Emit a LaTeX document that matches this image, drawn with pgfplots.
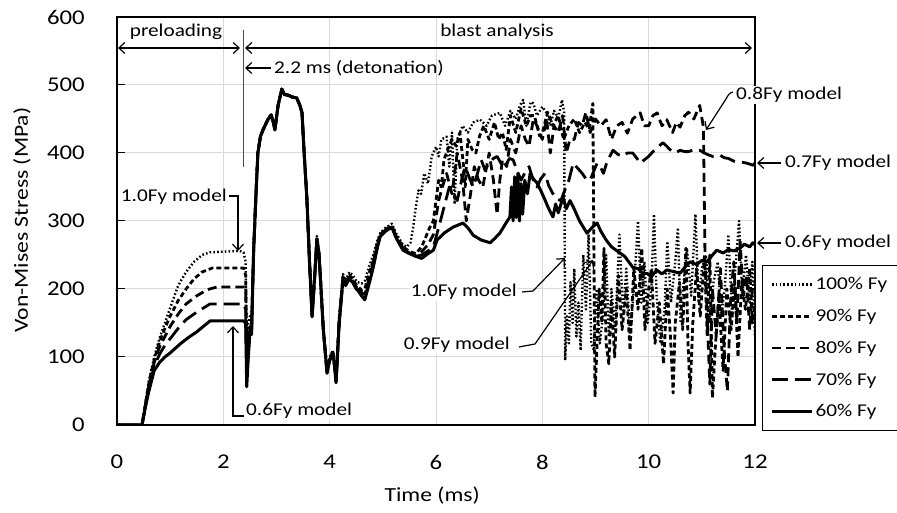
\documentclass[border=0pt]{standalone}
\usepackage{fontspec}
\setmainfont{Carlito}[FakeStretch=1.18]
\usepackage{pgfplots}
\pgfplotsset{compat=1.18}
\usetikzlibrary{arrows.meta}
\definecolor{gridgray}{RGB}{217,217,217}
\begin{document}
\begin{tikzpicture}
\begin{axis}[
 scale only axis, width=638pt, height=408pt,
 xmin=0, xmax=12, ymin=0, ymax=600,
 xtick={0,2,...,12}, ytick={0,100,...,600},
 grid=major, major grid style={gridgray, line width=1pt},
 axis line style={black, line width=1.3pt},
 tick align=inside, major tick length=8pt,
 xtick style={draw=none}, ytick style={black, line width=1pt},
 ytick pos=left, xtick pos=bottom,
 tick label style={font=\fontsize{21}{21}\selectfont, inner sep=0pt},
 /pgf/number format/assume math mode=true,
 xticklabel shift=30pt, yticklabel shift=32pt,
 xlabel={Time (ms)}, ylabel={Von-Mises Stress (MPa)},
 label style={font=\fontsize{20}{20}\selectfont},
 xlabel style={at={(axis description cs:0.494,-0.172)}, anchor=center},
 ylabel style={at={(axis description cs:-0.149,0.502)}, anchor=center},
 legend style={at={(1.011,0.392)}, anchor=north west, draw=black, line width=1pt, fill=white,
   font=\fontsize{18}{18}\selectfont, row sep=14pt, inner xsep=8pt, inner ysep=10pt,
   cells={anchor=west}},
 legend image code/.code={\draw[#1] (0pt,0pt) -- (40pt,0pt);},
]
% 100% Fy
\addplot[black, line width=2.4pt, dash pattern=on 1.6pt off 2.2pt, line join=round] coordinates {
(0,0)(0.47,0)(0.55,40)(0.6,65)(0.7,100)(0.8,128)(0.9,150)(1.0,172)(1.15,205)(1.3,225)(1.45,240)(1.6,250)(1.75,254)(2.3,256)(2.38,254)(2.42,240)(2.44,120)(2.47,150)(2.5,160)(2.53,150)(2.57,262)(2.62,352)(2.65,402)(2.7,426)(2.75,436)(2.83,449)(2.9,457)(2.94,446)(2.97,436)(3.03,471)(3.1,494)(3.15,487)(3.22,486)(3.3,483)(3.38,482)(3.44,471)(3.48,460)(3.52,402)(3.57,337)(3.62,245)(3.67,165)(3.72,225)(3.76,278)(3.8,255)(3.82,228)(3.88,145)(3.95,82)(4.0,100)(4.06,110)(4.1,85)(4.12,68)(4.18,160)(4.25,222)(4.3,212)(4.37,225)(4.44,220)(4.5,212)(4.53,210)(4.6,208)(4.66,212)(4.75,235)(4.82,250)(4.9,272)(4.95,282)(5.05,290)(5.17,296)(5.25,282)(5.38,265)(5.45,262)(5.52,268)(5.57,290)(5.62,320)(5.67,345)(5.72,340)(5.78,370)(5.85,355)(5.92,395)(6.0,409)(6.05,395)(6.1,420)(6.2,424)(6.25,380)(6.3,430)(6.35,325)(6.4,420)(6.5,440)(6.6,430)(6.7,445)(6.83,449)(6.95,440)(7.05,455)(7.2,459)(7.3,440)(7.4,462)(7.5,450)(7.58,470)(7.64,478)(7.7,440)(7.78,475)(7.83,473)(7.9,455)(8.0,468)(8.08,459)(8.15,440)(8.22,462)(8.3,452)(8.37,478)(8.41,460)(8.43,95)(8.46,160)(8.5,120)(8.53,210)(8.57,150)(8.6,230)(8.64,130)(8.68,180)(8.72,110)(8.77,250)(8.82,170)(8.87,280)(8.92,120)(8.97,110)(9.02,200)(9.08,120)(9.14,160)(9.2,250)(9.25,130)(9.3,200)(9.37,140)(9.45,280)(9.52,160)(9.58,230)(9.65,130)(9.72,200)(9.8,300)(9.86,180)(9.92,240)(9.98,150)(10.05,200)(10.1,310)(10.15,190)(10.22,120)(10.3,170)(10.35,270)(10.42,180)(10.5,240)(10.55,290)(10.6,150)(10.67,220)(10.72,260)(10.8,190)(10.88,310)(10.94,180)(11.0,230)(11.08,250)(11.14,150)(11.22,210)(11.3,240)(11.36,160)(11.43,200)(11.5,280)(11.57,160)(11.63,230)(11.7,300)(11.76,190)(11.83,250)(11.9,180)(11.95,240)(12,130)
};
\addlegendentry{100\% Fy}
% 90% Fy
\addplot[black, line width=2.8pt, dash pattern=on 5pt off 3pt, line join=round] coordinates {
(0,0)(0.47,0)(0.55,38)(0.6,62)(0.7,96)(0.8,122)(0.9,142)(1.0,160)(1.15,183)(1.3,200)(1.45,215)(1.6,225)(1.8,231)(2.38,231)(2.42,220)(2.44,100)(2.47,130)(2.5,145)(2.53,138)(2.57,259)(2.62,351)(2.65,401)(2.7,426)(2.75,435)(2.83,448)(2.9,456)(2.94,445)(2.97,435)(3.03,470)(3.1,494)(3.15,486)(3.22,485)(3.3,482)(3.38,481)(3.44,470)(3.48,459)(3.52,401)(3.57,336)(3.62,243)(3.67,162)(3.72,222)(3.76,275)(3.8,252)(3.82,226)(3.88,143)(3.95,80)(4.0,98)(4.06,108)(4.1,83)(4.12,66)(4.18,156)(4.25,218)(4.3,210)(4.37,220)(4.44,215)(4.5,206)(4.53,204)(4.6,198)(4.66,200)(4.75,225)(4.82,242)(4.9,268)(4.95,280)(5.05,288)(5.17,293)(5.25,278)(5.38,262)(5.5,255)(5.62,252)(5.73,262)(5.8,275)(5.88,290)(5.95,300)(6.0,330)(6.05,360)(6.1,350)(6.15,390)(6.22,405)(6.3,420)(6.38,410)(6.45,430)(6.52,380)(6.55,350)(6.6,420)(6.68,405)(6.75,400)(6.82,425)(6.9,440)(7.0,420)(7.1,445)(7.18,420)(7.25,430)(7.32,405)(7.4,455)(7.5,430)(7.6,465)(7.7,440)(7.78,455)(7.85,455)(7.95,425)(8.0,430)(8.1,460)(8.2,440)(8.3,455)(8.4,420)(8.5,440)(8.6,450)(8.7,430)(8.8,445)(8.88,435)(8.95,473)(8.99,41)(9.03,120)(9.07,200)(9.12,150)(9.16,260)(9.2,120)(9.25,90)(9.3,180)(9.36,100)(9.43,220)(9.5,140)(9.58,200)(9.65,110)(9.72,230)(9.8,170)(9.87,260)(9.93,140)(10.0,200)(10.05,230)(10.12,120)(10.2,180)(10.28,90)(10.35,200)(10.41,130)(10.46,47)(10.5,150)(10.58,210)(10.64,140)(10.7,260)(10.74,120)(10.78,47)(10.83,150)(10.9,230)(10.97,160)(11.05,250)(11.1,130)(11.15,250)(11.2,40)(11.25,110)(11.32,190)(11.4,80)(11.47,200)(11.55,140)(11.62,210)(11.68,100)(11.75,210)(11.82,170)(11.9,230)(11.95,150)(12,180)
};
\addlegendentry{90\% Fy}
% 80% Fy
\addplot[black, line width=2.8pt, dash pattern=on 9pt off 5pt, line join=round] coordinates {
(0,0)(0.47,0)(0.55,36)(0.6,58)(0.7,92)(0.8,115)(0.9,130)(1.0,145)(1.15,163)(1.3,178)(1.5,190)(1.7,199)(1.88,203)(2.38,203)(2.42,195)(2.44,90)(2.47,120)(2.5,140)(2.53,136)(2.57,258)(2.62,350)(2.65,401)(2.7,425)(2.75,435)(2.83,448)(2.9,456)(2.94,445)(2.97,434)(3.03,470)(3.1,494)(3.15,486)(3.22,485)(3.3,482)(3.38,481)(3.44,470)(3.48,459)(3.52,400)(3.57,335)(3.62,242)(3.67,160)(3.72,221)(3.76,274)(3.8,251)(3.82,225)(3.88,142)(3.95,78)(4.0,96)(4.06,107)(4.1,82)(4.12,64)(4.18,153)(4.25,216)(4.3,208)(4.37,218)(4.44,212)(4.5,203)(4.53,201)(4.6,194)(4.66,192)(4.75,218)(4.82,238)(4.9,265)(4.95,279)(5.05,287)(5.17,292)(5.25,277)(5.38,260)(5.5,253)(5.62,250)(5.73,255)(5.85,265)(5.95,280)(6.05,330)(6.12,350)(6.2,370)(6.3,340)(6.4,400)(6.5,360)(6.57,300)(6.65,340)(6.72,380)(6.8,360)(6.88,350)(7.0,400)(7.08,360)(7.12,330)(7.15,310)(7.2,360)(7.25,390)(7.33,380)(7.4,420)(7.5,400)(7.6,440)(7.68,420)(7.75,410)(7.83,450)(7.9,440)(8.0,420)(8.08,450)(8.15,400)(8.22,440)(8.3,430)(8.38,455)(8.45,400)(8.52,420)(8.6,420)(8.68,445)(8.75,440)(8.82,460)(8.9,430)(9.0,450)(9.1,440)(9.2,449)(9.3,420)(9.4,440)(9.5,445)(9.6,429)(9.7,450)(9.84,459)(9.92,440)(10.0,440)(10.08,455)(10.16,459)(10.25,440)(10.34,449)(10.45,430)(10.52,445)(10.59,438)(10.68,455)(10.75,460)(10.85,450)(10.96,470)(11.03,438)(11.06,245)(11.1,160)(11.15,60)(11.2,200)(11.27,130)(11.35,230)(11.42,110)(11.48,50)(11.54,180)(11.6,240)(11.66,150)(11.72,270)(11.78,190)(11.84,220)(11.9,140)(11.95,200)(12,210)
};
\addlegendentry{80\% Fy}
% 70% Fy
\addplot[black, line width=2.8pt, dash pattern=on 16pt off 7pt, line join=round] coordinates {
(0,0)(0.47,0)(0.55,34)(0.6,55)(0.7,86)(0.8,104)(0.9,117)(1.0,127)(1.15,142)(1.3,155)(1.5,166)(1.75,178)(2.38,178)(2.42,170)(2.44,75)(2.47,110)(2.5,137)(2.53,134)(2.57,257)(2.62,350)(2.65,400)(2.7,425)(2.75,434)(2.83,448)(2.9,456)(2.94,445)(2.97,434)(3.03,470)(3.1,494)(3.15,486)(3.22,485)(3.3,482)(3.38,481)(3.44,470)(3.48,459)(3.52,400)(3.57,335)(3.62,241)(3.67,160)(3.72,220)(3.76,273)(3.8,250)(3.82,224)(3.88,141)(3.95,77)(4.0,95)(4.06,106)(4.1,81)(4.12,63)(4.18,151)(4.25,214)(4.3,206)(4.37,216)(4.44,210)(4.5,201)(4.53,199)(4.6,191)(4.66,187)(4.75,213)(4.82,234)(4.9,263)(4.95,278)(5.05,286)(5.17,291)(5.25,276)(5.38,258)(5.5,252)(5.62,248)(5.73,250)(5.85,256)(5.95,262)(6.05,290)(6.15,320)(6.25,350)(6.32,340)(6.4,330)(6.48,360)(6.55,380)(6.62,365)(6.7,350)(6.78,370)(6.85,390)(6.92,375)(7.0,385)(7.08,392)(7.15,395)(7.22,385)(7.3,380)(7.38,392)(7.45,390)(7.52,375)(7.6,360)(7.68,372)(7.75,380)(7.82,362)(7.9,350)(7.97,362)(8.05,370)(8.12,352)(8.2,340)(8.28,332)(8.35,330)(8.42,345)(8.5,360)(8.58,385)(8.66,378)(8.75,370)(8.82,362)(8.9,360)(8.96,372)(9.03,385)(9.1,378)(9.15,370)(9.22,388)(9.33,404)(9.42,398)(9.5,395)(9.6,400)(9.7,400)(9.78,392)(9.84,385)(9.92,390)(10.0,395)(10.08,402)(10.15,405)(10.22,412)(10.27,415)(10.34,410)(10.4,405)(10.5,400)(10.59,404)(10.68,402)(10.75,402)(10.85,405)(10.96,404)(11.05,400)(11.1,398)(11.2,395)(11.34,397)(11.42,393)(11.5,392)(11.6,388)(11.72,387)(11.85,385)(11.96,382)(12,385)
};
\addlegendentry{70\% Fy}
% 60% Fy
\addplot[black, line width=3pt, line join=round] coordinates {
(0,0)(0.47,0)(0.55,32)(0.6,50)(0.7,80)(0.8,92)(0.9,100)(1.0,106)(1.2,120)(1.35,129)(1.5,137)(1.75,153)(2.38,153)(2.42,150)(2.44,56)(2.47,100)(2.5,135)(2.53,133)(2.57,257)(2.62,350)(2.65,400)(2.7,425)(2.75,434)(2.83,448)(2.9,456)(2.94,445)(2.97,434)(3.03,470)(3.1,494)(3.15,486)(3.22,485)(3.3,482)(3.38,481)(3.44,470)(3.48,459)(3.52,400)(3.57,335)(3.62,240)(3.67,159)(3.72,220)(3.76,272)(3.8,250)(3.82,223)(3.88,140)(3.95,76)(4.0,95)(4.06,106)(4.1,80)(4.12,62)(4.18,150)(4.25,213)(4.3,205)(4.37,215)(4.44,209)(4.5,200)(4.53,198)(4.6,190)(4.66,184)(4.75,210)(4.82,232)(4.9,262)(4.95,277)(5.05,285)(5.17,291)(5.25,275)(5.38,257)(5.5,252)(5.62,248)(5.73,245)(5.85,252)(5.95,257)(6.02,272)(6.15,282)(6.32,291)(6.51,297)(6.6,290)(6.7,279)(6.85,272)(7.02,268)(7.1,274)(7.2,282)(7.3,295)(7.39,306)(7.42,350)(7.45,300)(7.48,365)(7.51,305)(7.54,370)(7.57,300)(7.6,355)(7.63,310)(7.67,360)(7.72,340)(7.77,370)(7.83,362)(7.9,356)(7.97,345)(8.05,331)(8.12,318)(8.2,306)(8.25,325)(8.3,312)(8.39,335)(8.45,318)(8.52,330)(8.58,321)(8.7,300)(8.84,282)(8.93,290)(9.03,297)(9.1,285)(9.2,272)(9.3,262)(9.46,253)(9.55,248)(9.7,232)(9.8,230)(9.9,222)(9.97,223)(10.05,218)(10.15,228)(10.25,222)(10.34,228)(10.45,226)(10.59,223)(10.7,234)(10.78,240)(10.9,236)(11.0,242)(11.1,240)(11.2,250)(11.28,257)(11.4,253)(11.5,258)(11.6,256)(11.72,260)(11.8,266)(11.9,262)(11.96,268)(12,265)
};
\addlegendentry{60\% Fy}
\end{axis}
\begin{scope}[shift={(-117pt,425pt)}, x=1pt, y=-1pt, font=\fontsize{18}{18}\selectfont, >={Straight Barb[length=6pt,width=11pt]}]
\draw[<->, line width=1.2pt] (118,48) -- (240,48);
\node at (176,32) {preloading};
\draw[<->, line width=1.2pt] (245,48) -- (752,48);
\node at (497,32) {blast analysis};
\draw[line width=1pt, black!70] (243,30) -- (243,167);
\draw[->, line width=1.2pt] (271,68) -- (245,68);
\node[anchor=west, inner sep=1pt] at (273,68) {2.2 ms (detonation)};
\node[anchor=east, fill=white, inner sep=1pt] at (228,197) {1.0Fy model};
\draw[->, line width=1.2pt] (229,196) -- (238,196) -- (238,251);
\draw[->, line width=1.2pt] (244,416) -- (233,416) -- (233,326);
\node[anchor=west, fill=white, inner sep=1pt] at (245,411) {0.6Fy model};
\node[anchor=east, fill=white, inner sep=1pt] at (518,292) {1.0Fy model};
\draw[->, line width=1.2pt] (522,292) -- (533,291) -- (565,258);
\node[anchor=east, fill=white, inner sep=1pt] at (511,345) {0.9Fy model};
\draw[->, line width=1.2pt] (519,347) -- (535,344) -- (593,260);
\node[anchor=west, fill=white, inner sep=1pt] at (735,95) {0.8Fy model};
\draw[->, line width=1.2pt] (733,92) to[out=190,in=60] (726,99) -- (706,130);
\draw[->, line width=1.2pt] (781,163) -- (757,163);
\node[anchor=west, inner sep=1pt] at (784,163) {0.7Fy model};
\draw[->, line width=1.2pt] (781,243) -- (757,243);
\node[anchor=west, inner sep=1pt] at (784,243) {0.6Fy model};
\end{scope}
\pgfresetboundingbox
\path (-117pt,-88pt) rectangle (780pt,425pt);
\end{tikzpicture}
\end{document}
